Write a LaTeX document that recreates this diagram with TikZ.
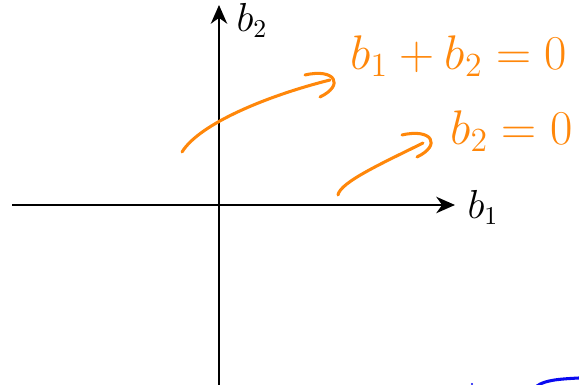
\documentclass[tikz,border=0pt]{standalone}
\usetikzlibrary{arrows.meta}
\definecolor{pen}{RGB}{255,135,10}
\definecolor{ink}{RGB}{10,10,240}
\tikzset{
    axis/.style={line width=0.9pt, -{Stealth[length=8pt,width=7pt,inset=2.5pt]}},
    scribble/.style={pen, line width=1.3pt, line cap=round},
    note/.style={pen, font=\huge, inner sep=0pt},
}
\begin{document}
\begin{tikzpicture}[x=0.015cm,y=-0.015cm]
        \useasboundingbox (0,0) rectangle (579,385);
        % axes
            \coordinate (xl) at (12,205);
            \coordinate (xr) at (455,205);
            \coordinate (yb) at (219,386);
            \coordinate (yt) at (219,5);
            \draw[axis] (xl) -- (xr);
            \draw[axis] (yb) -- (yt);
            \node[font=\fontsize{16}{19}\selectfont] (b1) at (483,207) {\(b_1\)};
            \node[font=\fontsize{16}{19}\selectfont] (b2) at (252,20) {\(b_2\)};
        % notes
            \node[note, anchor=west] (sum) at (350,56) {\(b_1+b_2=0\)};
            \node[note, anchor=west] (zero) at (450,131) {\(b_2=0\)};
            \foreach \s/\t/\u/\v/\p/\q/\h/\i/\j/\k in {
                    182/152/200/123/270/95/330/80/305/75,
                    338/195/340/182/385/162/423/143/402/135}{
                \coordinate (s) at (\s,\t);
                \coordinate (e) at (\h,\i);
                \draw[scribble] (s) .. controls (\u,\v) and (\p,\q) .. (e);
                \draw[scribble] (\j,\k) .. controls ({\j+30},{\k-7}) and ({\j+40},{\k+10}) .. ({\j+15},{\k+22});
            }
        % blue marks
            \coordinate (d) at (472,384);
            \fill[ink] (d) circle (1.2);
            \draw[ink, line width=1.3pt, line cap=round] (537,386) .. controls (545,380) and (560,379) .. (579,378);
\end{tikzpicture}
\end{document}
